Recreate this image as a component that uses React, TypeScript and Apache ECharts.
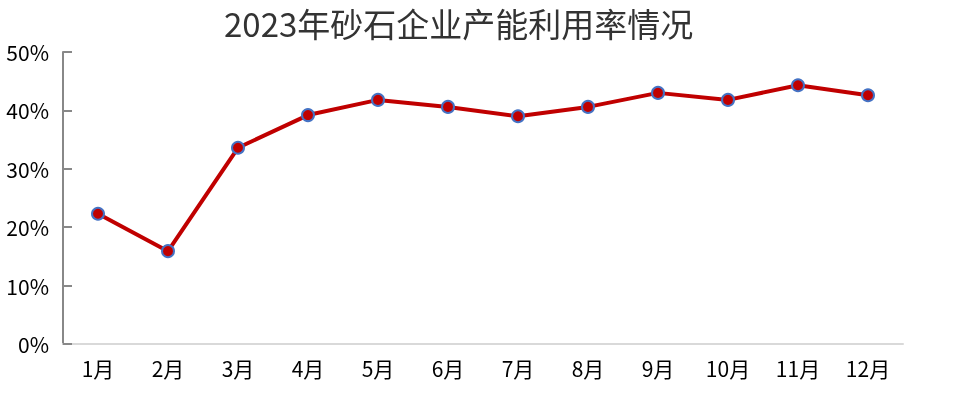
import React, { useEffect, useRef } from "react";
import * as echarts from "echarts";

const title = "2023年砂石企业产能利用率情况";
const months = ["1月", "2月", "3月", "4月", "5月", "6月", "7月", "8月", "9月", "10月", "11月", "12月"];
const utilization = [22.3, 15.9, 33.6, 39.2, 41.8, 40.6, 39.0, 40.6, 43.0, 41.8, 44.3, 42.6];

export default function App() {
  const ref = useRef<HTMLDivElement>(null);
  useEffect(() => {
    if (!ref.current) return;
    const chart = echarts.init(ref.current, null, { renderer: "svg" });
    const font = "'Noto Sans CJK SC', 'Microsoft YaHei', sans-serif";
    chart.setOption({
      animation: false,
      title: {
        text: title,
        left: 219,
        top: 1,
        textStyle: { fontFamily: font, fontSize: 33, fontWeight: "normal", color: "#333" },
      },
      grid: { left: 63, right: 62, top: 52, bottom: 49 },
      xAxis: {
        type: "category",
        data: months,
        axisLine: { lineStyle: { color: "#d9d9d9", width: 2 } },
        axisTick: { show: false },
        axisLabel: { fontFamily: font, fontSize: 21, color: "#000", margin: 13 },
      },
      yAxis: {
        type: "value",
        min: 0,
        max: 50,
        interval: 10,
        axisLine: { show: true, lineStyle: { color: "#888", width: 2 } },
        axisTick: { show: true, inside: true, length: 9, lineStyle: { color: "#888", width: 2 } },
        splitLine: { show: false },
        axisLabel: { fontFamily: font, fontSize: 21, color: "#000", margin: 14, formatter: "{value}%" },
      },
      series: [
        {
          type: "line",
          data: utilization,
          symbol: "circle",
          symbolSize: 12,
          lineStyle: { color: "#C00000", width: 4 },
          itemStyle: { color: "#C00000", borderColor: "#4472C4", borderWidth: 2 },
        },
      ],
    });
    return () => chart.dispose();
  }, []);
  return <div ref={ref} style={{ position: "fixed", left: 0, top: 0, width: 965, height: 393 }} />;
}
